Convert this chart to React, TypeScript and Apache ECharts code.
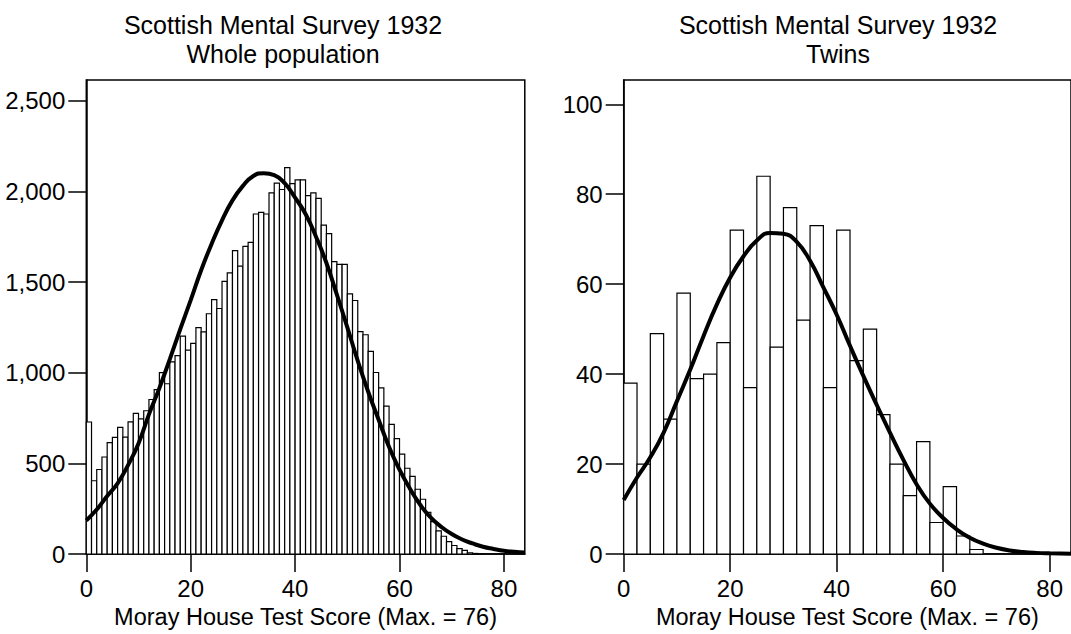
import React, { useEffect, useRef } from "react";
import * as echarts from "echarts";

// ---- Whole population: counts per score (bin width 1, scores 0..75) ----
const wholeCounts = [
  728, 404, 466, 535, 614, 643, 698, 644, 729, 776,
  745, 790, 852, 907, 1000, 939, 1059, 1094, 1201, 1124,
  1162, 1248, 1225, 1325, 1403, 1354, 1503, 1550, 1673, 1588,
  1697, 1719, 1875, 1884, 1875, 1991, 2045, 2010, 2131, 2043,
  2063, 2063, 1976, 1992, 1961, 1814, 1767, 1612, 1597, 1597,
  1434, 1398, 1226, 1209, 1117, 1001, 916, 816, 715, 636,
  551, 473, 428, 357, 302, 230, 178, 127, 98, 68,
  47, 30, 20, 7, 3, 1,
];
const wholeBinWidth = 1;

// fitted curve
const wholeCurveX = [0, 2, 4, 6, 8, 10, 12, 14, 16, 18, 20, 22, 24, 26, 28, 30, 32, 34, 36, 38, 40, 42, 44, 46, 48, 50, 52, 54, 56, 58, 60, 62, 64, 66, 68, 70, 72, 74, 76, 78, 80, 82, 84];
const wholeCurveY = [185, 245, 320, 390, 490, 610, 770, 915, 1075, 1240, 1400, 1565, 1710, 1840, 1950, 2030, 2085, 2100, 2090, 2045, 1965, 1875, 1750, 1605, 1430, 1250, 1065, 895, 740, 590, 465, 360, 270, 200, 150, 110, 80, 58, 40, 28, 18, 12, 8];

// ---- Twins: counts per bin of width 2.5 starting at 0 ----
const twinCounts = [38, 20, 49, 30, 58, 39, 40, 47, 72, 37, 84, 46, 77, 52, 73, 37, 72, 43, 50, 31, 20, 13, 25, 7, 15, 4, 1];
const twinBinWidth = 2.5;

const twinCurveX = [0, 2.5, 5, 7.5, 10, 12.5, 15, 17.5, 20, 22.5, 25, 27.5, 30, 32.5, 35, 37.5, 40, 42.5, 45, 47.5, 50, 52.5, 55, 57.5, 60, 62.5, 65, 67.5, 70, 72.5, 75, 77.5, 80, 84];
const twinCurveY = [12, 17, 21.5, 27, 34, 41, 48.5, 55.5, 61.5, 66.2, 69.7, 71.4, 71.2, 69.4, 65.2, 59.3, 53.2, 46.3, 39.6, 33.2, 27, 21, 15.5, 11.2, 8, 5.5, 3.6, 2.3, 1.4, 0.8, 0.45, 0.25, 0.15, 0.05];

const xTicks = [0, 20, 40, 60, 80];
const wholeYTicks = [0, 500, 1000, 1500, 2000, 2500];
const twinYTicks = [0, 20, 40, 60, 80, 100];

const titleLine1 = "Scottish Mental Survey 1932";
const wholeSub = "Whole population";
const twinSub = "Twins";
const xName = "Moray House Test Score (Max. = 76)";

const FONT = "'Liberation Sans', Arial, Helvetica, sans-serif";

function bins(counts: number[], w: number) {
  return counts.map((c, i) => [i * w, (i + 1) * w, c]);
}

function renderBar(params: any, api: any) {
  const x0 = api.value(0);
  const x1 = api.value(1);
  const v = api.value(2);
  const p0 = api.coord([x0, v]);
  const p1 = api.coord([x1, 0]);
  return {
    type: "rect",
    shape: { x: p0[0], y: p0[1], width: p1[0] - p0[0], height: p1[1] - p0[1] },
    style: { fill: "#fff", stroke: "#000", lineWidth: 1.2 },
  };
}

export default function App() {
  const ref = useRef<HTMLDivElement>(null);
  useEffect(() => {
    if (!ref.current) return;
    const chart = echarts.init(ref.current, undefined, { renderer: "svg" });
    const axisLine = { show: true, lineStyle: { color: "#000", width: 1.5 } };
    const axisTick = (vals: number[]) => ({
      show: true,
      inside: false,
      length: 18,
      lineStyle: { color: "#000", width: 1.5 },
      customValues: vals,
    });
    const xAxisCommon = (gi: number) => ({
      type: "value",
      gridIndex: gi,
      min: 0,
      max: 84,
      interval: 20,
      axisLine,
      axisTick: axisTick(xTicks),
      splitLine: { show: false },
      axisLabel: {
        color: "#000",
        fontSize: 24,
        fontFamily: FONT,
        margin: 22,
        customValues: xTicks,
      },
      name: xName,
      nameLocation: "middle",
      nameGap: 51,
      nameTextStyle: { color: "#000", fontSize: 23.5, fontFamily: FONT },
    });
    const yAxisCommon = (gi: number, max: number, interval: number, vals: number[]) => ({
      type: "value",
      gridIndex: gi,
      min: 0,
      max,
      interval,
      axisLine,
      axisTick: axisTick(vals),
      splitLine: { show: false },
      axisLabel: {
        color: "#000",
        fontSize: 24,
        fontFamily: FONT,
        margin: 21,
        customValues: vals,
        formatter: (v: number) => v.toLocaleString("en-US"),
      },
    });
    chart.setOption({
      animation: false,
      backgroundColor: "#fff",
      grid: [
        { left: 86.3, top: 80, width: 438.5, height: 478.5, show: true, borderColor: "#000", borderWidth: 1.5, backgroundColor: "transparent" },
        { left: 623.7, top: 80, width: 457.4, height: 478.5, show: true, borderColor: "#000", borderWidth: 1.5, backgroundColor: "transparent" },
      ],
      xAxis: [xAxisCommon(0), xAxisCommon(1)],
      yAxis: [yAxisCommon(0, 2614, 500, wholeYTicks), yAxisCommon(1, 105.4, 20, twinYTicks)],
      graphic: [
        {
          type: "text",
          x: 283,
          y: 10,
          style: {
            text: titleLine1 + "\n" + wholeSub,
            fill: "#000",
            fontSize: 25,
            fontFamily: FONT,
            lineHeight: 29,
            align: "center",
            verticalAlign: "top",
          },
        },
        {
          type: "text",
          x: 838,
          y: 10,
          style: {
            text: titleLine1 + "\n" + twinSub,
            fill: "#000",
            fontSize: 25,
            fontFamily: FONT,
            lineHeight: 29,
            align: "center",
            verticalAlign: "top",
          },
        },
      ],
      series: [
        {
          type: "custom",
          xAxisIndex: 0,
          yAxisIndex: 0,
          data: bins(wholeCounts, wholeBinWidth),
          encode: { x: [0, 1], y: 2 },
          renderItem: renderBar,
          z: 2,
        },
        {
          type: "line",
          xAxisIndex: 0,
          yAxisIndex: 0,
          data: wholeCurveX.map((x, i) => [x, wholeCurveY[i]]),
          smooth: true,
          showSymbol: false,
          lineStyle: { color: "#000", width: 4 },
          z: 5,
        },
        {
          type: "custom",
          xAxisIndex: 1,
          yAxisIndex: 1,
          data: bins(twinCounts, twinBinWidth),
          encode: { x: [0, 1], y: 2 },
          renderItem: renderBar,
          z: 2,
        },
        {
          type: "line",
          xAxisIndex: 1,
          yAxisIndex: 1,
          data: twinCurveX.map((x, i) => [x, twinCurveY[i]]),
          smooth: true,
          showSymbol: false,
          lineStyle: { color: "#000", width: 4 },
          z: 5,
        },
      ],
    });
    return () => chart.dispose();
  }, []);
  return (
    <div
      ref={ref}
      style={{ position: "absolute", left: 0, top: 0, width: 1071, height: 634 }}
    />
  );
}
